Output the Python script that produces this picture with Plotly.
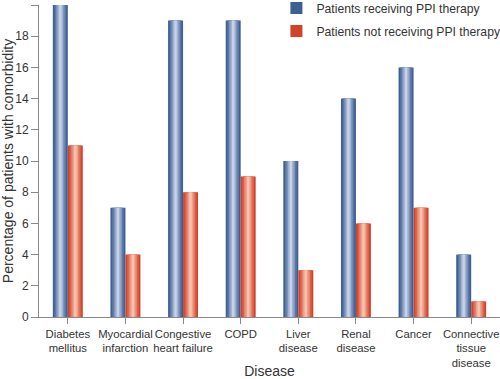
import plotly.graph_objects as go

categories = ["Diabetes<br>mellitus", "Myocardial<br>infarction", "Congestive<br>heart failure",
              "COPD", "Liver<br>disease", "Renal<br>disease", "Cancer",
              "Connective<br>tissue<br>disease"]
ppi = [20, 7, 19, 19, 10, 14, 16, 4]
no_ppi = [11, 4, 8, 9, 3, 6, 7, 1]
series_names = ["Patients receiving PPI therapy", "Patients not receiving PPI therapy"]
y_ticks = [0, 2, 4, 6, 8, 10, 12, 14, 16, 18, 20]

blue_shades = ["#3d5f92", "#5a77a6", "#7d95bd", "#a3b3d2", "#c8d1e6"]
red_shades = ["#d0432b", "#db5f47", "#e58168", "#eea28b", "#f6c4b1"]
fracs = [1.0, 0.78, 0.56, 0.36, 0.16]
bw = 0.26

fig = go.Figure()
for vals, name, shades, center in [(ppi, series_names[0], blue_shades, -bw / 2),
                                   (no_ppi, series_names[1], red_shades, bw / 2)]:
    for i, (f, c) in enumerate(zip(fracs, shades)):
        w = bw * f
        fig.add_trace(go.Bar(
            x=categories, y=vals, name=name, width=w, offset=center - w / 2,
            marker=dict(color=c, line=dict(width=0)),
            showlegend=(i == 0), legendgroup=name, hoverinfo="skip" if i else None,
        ))

fig.update_layout(
    width=500, height=379,
    margin=dict(l=39, r=0, t=5, b=62, autoexpand=False),
    barmode="overlay",
    plot_bgcolor="white", paper_bgcolor="white",
    font=dict(family="Liberation Sans, Arial, sans-serif", size=12, color="#333333"),
    legend=dict(x=0.515, y=1.037, xanchor="left", yanchor="top",
                bgcolor="rgba(255,255,255,0)", font=dict(size=12.2, color="#333333"),
                tracegroupgap=4),
    xaxis=dict(showline=True, linecolor="#888888", linewidth=1, ticks="outside",
               ticklen=6, tickcolor="#888888", showgrid=False, tickangle=0,
               automargin=False,
               title=dict(text="Disease", standoff=2),
               tickfont=dict(size=11.3)),
    yaxis=dict(range=[0, 20], tickvals=y_ticks, showline=True, linecolor="#888888",
               linewidth=1, ticks="outside", ticklen=7, tickcolor="#888888",
               showgrid=False, zeroline=False, automargin=False,
               title=dict(text="Percentage of patients with comorbidity", standoff=2),
               tickfont=dict(size=12)),
)

fig.write_html("out.html", config={"displayModeBar": False},
               post_script="document.body.style.margin='0';")
